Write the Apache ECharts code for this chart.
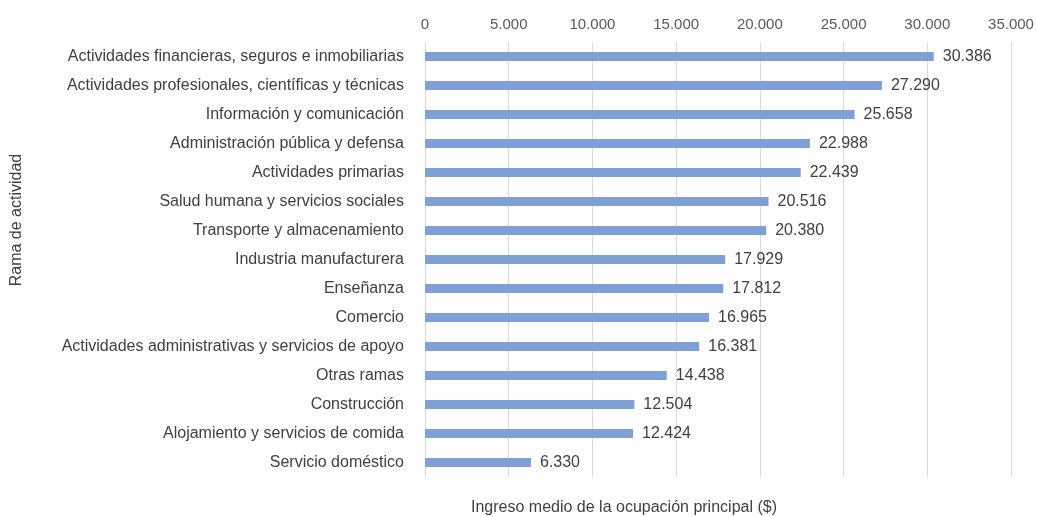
<!DOCTYPE html>
<html><head><meta charset="utf-8">
<script src="https://cdn.jsdelivr.net/npm/echarts@6/dist/echarts.min.js"></script>
<style>html,body{margin:0;padding:0;background:#fff}#c{width:1037px;height:517px}</style>
</head><body><div id="c"></div>
<script>
const categories = ["Actividades financieras, seguros e inmobiliarias","Actividades profesionales, científicas y técnicas","Información y comunicación","Administración pública y defensa","Actividades primarias","Salud humana y servicios sociales","Transporte y almacenamiento","Industria manufacturera","Enseñanza","Comercio","Actividades administrativas y servicios de apoyo","Otras ramas","Construcción","Alojamiento y servicios de comida","Servicio doméstico"];
const values = [30386,27290,25658,22988,22439,20516,20380,17929,17812,16965,16381,14438,12504,12424,6330];
const xName = "Ingreso medio de la ocupación principal ($)";
const yName = "Rama de actividad";
function fmt(v){return String(Math.round(v)).replace(/\B(?=(\d{3})+(?!\d))/g,".");}
const chart = echarts.init(document.getElementById('c'));
const font = "'Liberation Sans', Arial, sans-serif";
chart.setOption({
  animation:false,
  grid:{left:425,right:26,top:42,bottom:40},
  xAxis:{type:'value',position:'top',min:0,max:35000,interval:5000,
    axisLabel:{formatter:fmt,color:'#595959',fontSize:15,fontFamily:font,margin:10},
    axisLine:{show:false},axisTick:{show:false},
    splitLine:{lineStyle:{color:'#d9d9d9',width:1}}},
  yAxis:{type:'category',inverse:true,data:categories,
    axisLabel:{color:'#404040',fontSize:16,fontFamily:font,margin:21},
    axisLine:{show:true,lineStyle:{color:'#d9d9d9'}},axisTick:{show:false}},
  series:[{type:'bar',data:values,barWidth:9,itemStyle:{color:'#7fa0d6'},
    label:{show:true,position:'right',distance:9,formatter:p=>fmt(p.value),color:'#404040',fontSize:16,fontFamily:font}}],
  graphic:[
    {type:'text',x:624,y:508,style:{text:xName,fill:'#404040',font:'16px '+font,align:'center',verticalAlign:'middle'}},
    {type:'text',x:17,y:220,rotation:Math.PI/2,style:{text:yName,fill:'#404040',font:'16px '+font,align:'center',verticalAlign:'middle'}}
  ]
});
</script></body></html>
